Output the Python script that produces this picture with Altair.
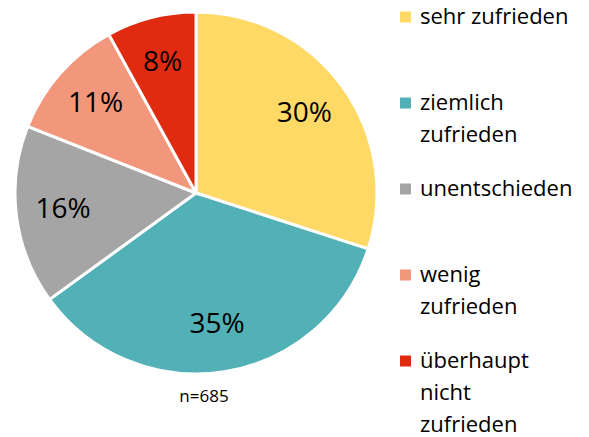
import altair as alt
import pandas as pd

categories = ["sehr zufrieden", "ziemlich zufrieden", "unentschieden", "wenig zufrieden", "überhaupt nicht zufrieden"]
legend_labels = ["sehr zufrieden", "ziemlich\nzufrieden", "unentschieden", "wenig\nzufrieden", "überhaupt\nnicht\nzufrieden"]
values = [30, 35, 16, 11, 8]
colors = ["#FFD966", "#52B0B7", "#A5A5A5", "#F2977B", "#E02B10"]
note = "n=685"

df = pd.DataFrame({
    "cat": categories,
    "label": legend_labels,
    "value": values,
    "order": list(range(len(categories))),
    "pct": [f"{v}%" for v in values],
})

FONT = "Open Sans"
cx, cy, R = 196, 193, 181

color = alt.Color("cat:N", sort=categories,
                  scale=alt.Scale(domain=categories, range=colors), legend=None)

base = alt.Chart(df)

pie = base.mark_arc(outerRadius=R, stroke="white", strokeWidth=3).encode(
    theta=alt.Theta("value:Q", stack=True),
    order=alt.Order("order:Q"),
    color=color,
    x=alt.value(cx), y=alt.value(cy),
)

labels = base.mark_text(radius=134, font=FONT, fontSize=28, color="black",
                        align="center", baseline="middle").encode(
    theta=alt.Theta("value:Q", stack=True),
    order=alt.Order("order:Q"),
    text="pct:N",
    x=alt.value(cx), y=alt.value(cy),
)

ypos = alt.Y("cat:N", sort=categories,
             scale=alt.Scale(type="point", range=[17, 361], padding=0), axis=None)

squares = base.mark_square(size=121, opacity=1).encode(
    x=alt.value(405.5), y=ypos, color=color,
)

legend_text = base.transform_calculate(
    lines="split(datum.label, '\\n')"
).mark_text(font=FONT, fontSize=22, align="left", baseline="alphabetic", dy=7,
            lineHeight=32, color="black").encode(
    x=alt.value(420), y=ypos,
    text=alt.Text("lines:N"),
)

nlabel = alt.Chart(pd.DataFrame({"t": [note]})).mark_text(
    font=FONT, fontSize=17, color="black", align="center", baseline="middle"
).encode(x=alt.value(204), y=alt.value(397), text="t:N")

chart = alt.layer(pie, labels, squares, legend_text, nlabel).properties(
    width=589, height=437, padding=0, autosize=alt.AutoSizeParams(type="none")
).configure_view(stroke=None)

chart.save("out.html", embed_options={"renderer": "svg", "actions": False})
